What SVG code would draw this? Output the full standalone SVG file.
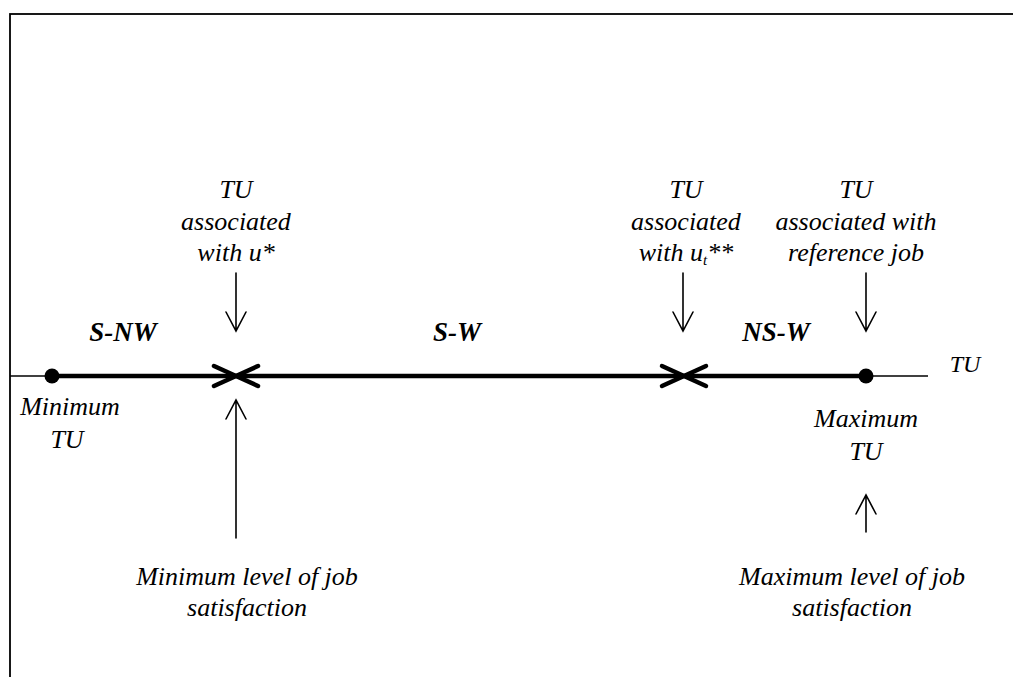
<svg xmlns="http://www.w3.org/2000/svg" width="1013" height="677" viewBox="0 0 1013 677">
<style>
.t{font-family:"Liberation Serif","Times New Roman",serif;font-style:italic;font-size:26px;fill:#000;text-anchor:middle}
.b{font-family:"Liberation Serif","Times New Roman",serif;font-style:italic;font-weight:bold;font-size:27px;fill:#000;text-anchor:middle}
.thin{stroke:#000;stroke-width:1.6;fill:none}
.bold{stroke:#000;stroke-width:4.5;fill:none;stroke-linecap:round;stroke-linejoin:round}
.arr{stroke:#000;stroke-width:1.6;fill:none;stroke-linecap:round;stroke-linejoin:miter}
</style>
<rect id="frame" x="10" y="14" width="1020" height="700" fill="#fff" stroke="#000" stroke-width="1.8"/>
<g id="connectors">
  <line class="thin" x1="10" y1="376" x2="928" y2="376"/>
  <line class="bold" x1="52" y1="376" x2="866" y2="376"/>
  <path class="bold" d="M214,366 L236,376 L214,386 M258,366 L236,376 L258,386"/>
  <path class="bold" d="M662,366 L684,376 L662,386 M706,366 L684,376 L706,386"/>
  <path class="arr" d="M236,273 V331 M226,312 L236,331 L246,312"/>
  <path class="arr" d="M683,273 V331 M673,312 L683,331 L693,312"/>
  <path class="arr" d="M866,273 V331 M856,312 L866,331 L876,312"/>
  <path class="arr" d="M236,538 V400 M226,419 L236,400 L246,419"/>
  <path class="arr" d="M866,532 V495 M856,514 L866,495 L876,514"/>
</g>
<g id="node-min-dot"><circle cx="52" cy="376" r="7.5" fill="#000"/></g>
<g id="node-max-dot"><circle cx="866" cy="376" r="7.5" fill="#000"/></g>
<g id="node-tu-ustar">
  <text class="t" x="236" y="198">TU</text>
  <text class="t" x="236" y="230">associated</text>
  <text class="t" x="236" y="261">with u*</text>
</g>
<g id="node-tu-ut">
  <text class="t" x="686" y="198">TU</text>
  <text class="t" x="686" y="230">associated</text>
  <text class="t" x="686" y="261">with u<tspan font-size="15" dy="4">t</tspan><tspan dy="-4">**</tspan></text>
</g>
<g id="node-tu-ref">
  <text class="t" x="856" y="198">TU</text>
  <text class="t" x="856" y="230">associated with</text>
  <text class="t" x="856" y="261">reference job</text>
</g>
<g id="node-snw"><text class="b" x="123" y="341">S-NW</text></g>
<g id="node-sw"><text class="b" x="457" y="341">S-W</text></g>
<g id="node-nsw"><text class="b" x="776" y="341">NS-W</text></g>
<g id="node-tu-axis"><text class="t" x="965" y="372" style="font-size:24px">TU</text></g>
<g id="node-min-tu">
  <text class="t" x="70" y="415">Minimum</text>
  <text class="t" x="67" y="448">TU</text>
</g>
<g id="node-max-tu">
  <text class="t" x="866" y="427">Maximum</text>
  <text class="t" x="866" y="460">TU</text>
</g>
<g id="node-min-sat">
  <text class="t" x="247" y="585">Minimum level of job</text>
  <text class="t" x="247" y="616">satisfaction</text>
</g>
<g id="node-max-sat">
  <text class="t" x="852" y="585">Maximum level of job</text>
  <text class="t" x="852" y="616">satisfaction</text>
</g>
</svg>
